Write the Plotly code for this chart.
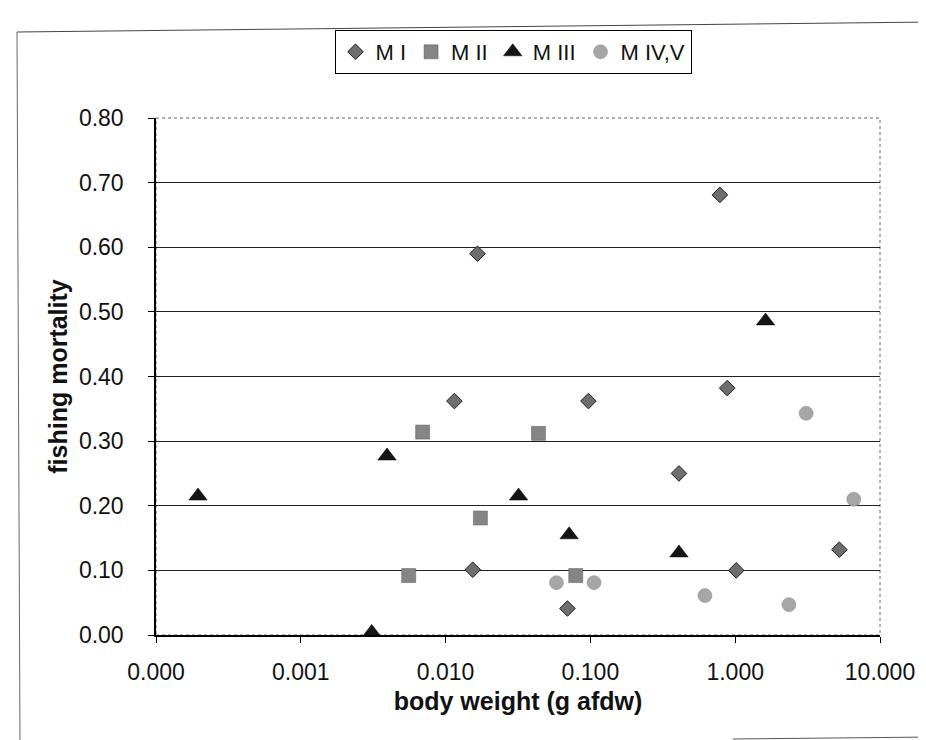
import plotly.graph_objects as go

# ---- data ----
m1_weight = [0.0166, 0.0115, 0.784, 0.881, 0.0969, 0.409, 5.24, 1.016, 0.0154, 0.0694]
m1_mort = [0.590, 0.362, 0.681, 0.382, 0.362, 0.250, 0.132, 0.100, 0.101, 0.041]

m2_weight = [0.00694, 0.0438, 0.0174, 0.00556, 0.0792]
m2_mort = [0.314, 0.312, 0.181, 0.092, 0.092]

m3_weight = [0.000195, 0.00394, 0.0319, 0.0713, 0.409, 1.62, 0.00309]
m3_mort = [0.215, 0.277, 0.215, 0.155, 0.127, 0.486, 0.004]

m45_weight = [3.09, 6.59, 0.0583, 0.106, 0.618, 2.35]
m45_mort = [0.343, 0.210, 0.081, 0.081, 0.061, 0.047]

series_names = ["M I", "M II", "M III", "M IV,V"]
x_tick_vals = [0.0001, 0.001, 0.01, 0.1, 1, 10]
x_tick_text = ["0.000", "0.001", "0.010", "0.100", "1.000", "10.000"]

FONT = "Liberation Sans, Arial, sans-serif"
W, H = 926, 740
L, R, T, B = 148, 54, 110, 113
PW, PH = W - L - R, H - T - B


def px(x):
    return (x - L) / PW


def py(y):
    return (H - B - y) / PH


fig = go.Figure()
fig.add_trace(go.Scatter(
    x=m1_weight, y=m1_mort, mode="markers", name=series_names[0],
    marker=dict(symbol="diamond", size=12, color="#6e6e6e",
                line=dict(color="#1e1e1e", width=1))))
fig.add_trace(go.Scatter(
    x=m2_weight, y=m2_mort, mode="markers", name=series_names[1],
    marker=dict(symbol="square", size=14, color="#858585",
                line=dict(color="#5a5a5a", width=0.5))))
fig.add_trace(go.Scatter(
    x=m3_weight, y=m3_mort, mode="markers", name=series_names[2],
    marker=dict(symbol="triangle-up", size=16, color="#151515",
                line=dict(color="#000000", width=0.5))))
fig.add_trace(go.Scatter(
    x=m45_weight, y=m45_mort, mode="markers", name=series_names[3],
    marker=dict(symbol="circle", size=14, color="#a6a6a6",
                line=dict(color="#8a8a8a", width=0.5))))

shapes = [
    # plot area frame (top/right dotted grey)
    dict(type="rect", xref="paper", yref="paper", x0=0, x1=1, y0=0, y1=1,
         line=dict(color="#666666", width=1, dash="dot"), layer="below"),
    # outer chart border (scanned page)
    dict(type="line", xref="paper", yref="paper",
         x0=px(9), y0=py(24), x1=px(926), y1=py(14),
         line=dict(color="#444444", width=1)),
    dict(type="line", xref="paper", yref="paper",
         x0=px(9), y0=py(24), x1=px(12), y1=py(740),
         line=dict(color="#666666", width=1)),
    dict(type="line", xref="paper", yref="paper",
         x0=px(725), y0=py(731), x1=px(926), y1=py(729),
         line=dict(color="#555555", width=1)),
]

fig.update_layout(
    width=W, height=H, autosize=False,
    margin=dict(l=L, r=R, t=T, b=B),
    paper_bgcolor="white", plot_bgcolor="white",
    font=dict(family=FONT, size=22, color="#111111"),
    showlegend=True,
    legend=dict(orientation="h", x=px(505), xanchor="center",
                y=py(22), yanchor="top",
                bordercolor="#000000", borderwidth=1, bgcolor="white",
                font=dict(family=FONT, size=22, color="#111111"),
                itemwidth=30, tracegroupgap=0),
    shapes=shapes,
    xaxis=dict(
        type="log", range=[-4, 1],
        tickvals=x_tick_vals, ticktext=x_tick_text,
        ticks="outside", ticklen=6, tickcolor="#000000",
        ticklabelstandoff=10,
        showline=True, linecolor="#000000", linewidth=1.5,
        showgrid=False, zeroline=False,
        tickfont=dict(family=FONT, size=23, color="#111111"),
        title=dict(text="body weight (g afdw)", standoff=8,
                   font=dict(family=FONT, size=25, color="#111111", weight="bold")),
    ),
    yaxis=dict(
        range=[0, 0.8], dtick=0.1, tick0=0, tickformat=".2f",
        ticks="outside", ticklen=6, tickcolor="#000000",
        ticklabelstandoff=20,
        showline=True, linecolor="#000000", linewidth=1.5,
        showgrid=True, gridcolor="#222222", gridwidth=1,
        zeroline=False,
        tickfont=dict(family=FONT, size=23, color="#111111"),
        title=dict(text="fishing mortality", standoff=4,
                   font=dict(family=FONT, size=25, color="#111111", weight="bold")),
    ),
)

fig.write_html("out.html")
